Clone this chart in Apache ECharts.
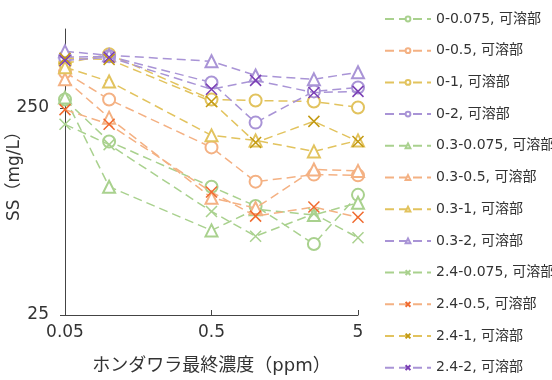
<!DOCTYPE html>
<html>
<head>
<meta charset="utf-8">
<script src="https://cdn.jsdelivr.net/npm/echarts@6/dist/echarts.min.js"></script>
<style>
  html, body { margin: 0; padding: 0; background: #fff; }
  #chart { width: 552px; height: 380px; }
</style>
</head>
<body>
<div id="chart"></div>
<script>
// Final seaweed concentration (ppm)
const concentrations = [0.05, 0.1, 0.5, 1, 2.5, 5];

// Dissolved SS (mg/L) per treatment
const ss_0_0075   = [274, 172, 104, 84, 55, 95];
const ss_0_05     = [371, 274, 161, 110, 119, 118];
const ss_0_1      = [409, 453, 274, 271, 268, 251];
const ss_0_2      = [438, 443, 331, 212, 300, 313];
const ss_03_0075  = [280, 104, 64, 81, 76, 87];
const ss_03_05    = [343, 224, 92, 82, 126, 124];
const ss_03_1     = [392, 335, 184, 174, 154, 174];
const ss_03_2     = [468, 448, 419, 358, 343, 371];
const ss_24_0075  = [208, 166, 79, 60, 77, 59];
const ss_24_05    = [245, 208, 98, 75, 83, 74];
const ss_24_1     = [433, 428, 268, 170, 215, 172];
const ss_24_2     = [423, 438, 307, 339, 296, 300];

const seriesNames = [
  '0-0.075, 可溶部', '0-0.5, 可溶部', '0-1, 可溶部', '0-2, 可溶部',
  '0.3-0.075, 可溶部', '0.3-0.5, 可溶部', '0.3-1, 可溶部', '0.3-2, 可溶部',
  '2.4-0.075, 可溶部', '2.4-0.5, 可溶部', '2.4-1, 可溶部', '2.4-2, 可溶部'
];
const seriesValues = [
  ss_0_0075, ss_0_05, ss_0_1, ss_0_2,
  ss_03_0075, ss_03_05, ss_03_1, ss_03_2,
  ss_24_0075, ss_24_05, ss_24_1, ss_24_2
];

const yTicks = [25, 250];
const xTicks = [0.05, 0.5, 5];

const lineColors = ['#a9d18e', '#f4b183', '#e2c35e', '#a994d6'];
const crossColors = ['#a9d18e', '#f06a2e', '#c39a12', '#7b3fb5'];
const CROSS = 'path://M0,0L10,10M10,0L0,10';
const symbols = ['emptyCircle', 'emptyTriangle', CROSS];

const FONT = "'DejaVu Sans', 'Noto Sans CJK JP', sans-serif";

const series = seriesNames.map(function (name, i) {
  const group = Math.floor(i / 4);
  const c = i % 4;
  const symColor = group === 2 ? crossColors[c] : lineColors[c];
  return {
    name: name,
    type: 'line',
    data: concentrations.map(function (x, k) { return [x, seriesValues[i][k]]; }),
    symbol: symbols[group],
    symbolSize: group === 2 ? 11 : 12,
    showSymbol: true,
    lineStyle: { color: lineColors[c], width: 1.5, type: [9, 5] },
    itemStyle: { color: symColor, borderColor: symColor, borderWidth: 1.5 },
    emphasis: { disabled: true },
    z: 2 + group
  };
});

const chart = echarts.init(document.getElementById('chart'), null, { renderer: 'canvas' });
chart.setOption({
  animation: false,
  backgroundColor: '#fff',
  textStyle: { fontFamily: FONT, color: '#333' },
  grid: { left: 65, right: 194, top: 29, bottom: 65, outerBoundsMode: 'none', containLabel: false },
  legend: {
    orient: 'vertical',
    left: 384,
    top: 11,
    padding: 0,
    itemWidth: 46,
    itemHeight: 6,
    itemGap: 15.7,
    textStyle: { fontFamily: FONT, fontSize: 14, color: '#333', lineHeight: 16, padding: [0, 0, 0, 0] },
    data: seriesNames
  },
  xAxis: {
    type: 'log',
    logBase: 10,
    min: 0.05,
    max: 5,
    name: 'ホンダワラ最終濃度（ppm）',
    nameLocation: 'middle',
    nameGap: 42,
    nameMoveOverlap: false,
    nameTextStyle: { fontFamily: FONT, fontSize: 18, color: '#333' },
    axisLine: { lineStyle: { color: '#444', width: 1 } },
    axisTick: { show: true, inside: true, length: 5, customValues: xTicks, lineStyle: { color: '#444' } },
    axisLabel: {
      customValues: xTicks,
      margin: 9,
      fontFamily: FONT,
      fontSize: 17,
      color: '#333',
      formatter: function (v) { return String(Number(v.toPrecision(3))); }
    },
    splitLine: { show: false },
    minorTick: { show: false }
  },
  yAxis: {
    type: 'log',
    logBase: 10,
    min: 25,
    max: 600,
    name: 'SS（mg/L）',
    nameLocation: 'middle',
    nameGap: 42,
    nameMoveOverlap: false,
    nameRotate: 90,
    nameTextStyle: { fontFamily: FONT, fontSize: 17, color: '#333' },
    axisLine: { show: true, lineStyle: { color: '#444', width: 1 } },
    axisTick: { show: true, length: 5, customValues: yTicks, lineStyle: { color: '#444' } },
    axisLabel: {
      customValues: yTicks,
      margin: 16,
      fontFamily: FONT,
      fontSize: 17,
      color: '#333',
      formatter: function (v) { return String(Math.round(v)); }
    },
    splitLine: { show: false },
    minorTick: { show: false }
  },
  series: series
});
</script>
</body>
</html>
